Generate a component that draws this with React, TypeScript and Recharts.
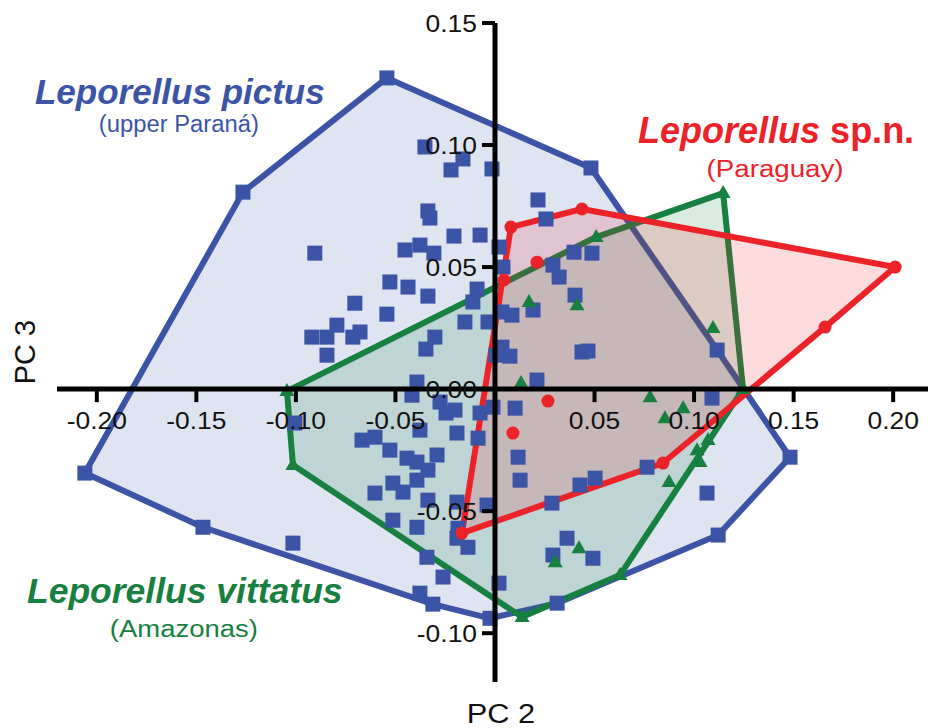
import { Curve, ReferenceDot, ReferenceLine, Scatter, ScatterChart, XAxis, YAxis } from "recharts";

const FONT = '"Liberation Sans", Arial, Helvetica, sans-serif';
const BLUE = "#3b54a5";
const GREEN = "#178040";
const RED = "#ec2229";

const xTicks = [-0.2, -0.15, -0.1, -0.05, 0.05, 0.1, 0.15, 0.2];
const yTicks = [0.15, 0.1, 0.05, 0, -0.05, -0.1];

// L. pictus (upper Paraná) - hull vertices in drawing order
const pictusHull: [number, number][] = [
  [-0.0543, 0.1275], [-0.1266, 0.0807], [-0.206, -0.0344], [-0.1467, -0.0566], [-0.0312, -0.0881],
  [-0.0025, -0.0939], [0.0312, -0.0877], [0.1121, -0.0598], [0.1482, -0.0279], [0.1116, 0.016], [0.0482, 0.0906],
];

const pictusInner: [number, number][] = [
  [-0.0352, 0.0992], [-0.0161, 0.0943], [-0.0221, 0.0898], [-0.0015, 0.0902], [-0.0337, 0.073], [-0.0327, 0.0701],
  [-0.0905, 0.0557], [-0.0206, 0.0627], [-0.0075, 0.0631], [-0.0452, 0.057], [-0.0377, 0.059], [-0.0307, 0.0557],
  [0.002, 0.0582], [0.004, 0.05], [-0.0528, 0.0439], [-0.0437, 0.0418], [-0.0337, 0.0381], [-0.009, 0.041],
  [-0.0704, 0.0352], [-0.0543, 0.0307], [-0.0111, 0.0357], [-0.0151, 0.0275], [-0.0035, 0.0275], [-0.0794, 0.0262],
  [-0.092, 0.0213], [-0.0844, 0.0213], [-0.0678, 0.0234], [-0.0714, 0.0213], [-0.0844, 0.0139], [-0.0302, 0.0213],
  [-0.0347, 0.0164], [0.0216, 0.0775], [0.0256, 0.0697], [0.0397, 0.0561], [0.0487, 0.0557], [0.0291, 0.0508],
  [0.0322, 0.0459], [0.0402, 0.0385], [0.0191, 0.0324], [0.0035, 0.0316], [0.0085, 0.0303], [0.0035, 0.0172],
  [0.0075, 0.0135], [0.0005, 0.0139], [0.0437, 0.0152], [0.0467, 0.0156], [0.0211, 0.0037], [0.0101, -0.0078],
  [-0.001, -0.0074], [0.109, -0.0037], [-0.0392, 0.0029], [-0.0417, -0.0025], [-0.0276, -0.0053], [-0.0246, -0.0098],
  [-0.0201, -0.0086], [-0.0075, -0.0098], [-0.0377, -0.0168], [-0.0191, -0.018], [-0.0085, -0.0201], [-0.0668, -0.0209],
  [-0.0603, -0.0197], [-0.0528, -0.025], [-0.0442, -0.0283], [-0.0291, -0.027], [-0.0392, -0.0299], [-0.0337, -0.0332],
  [-0.0513, -0.0385], [-0.0392, -0.0373], [-0.0462, -0.0422], [-0.0603, -0.0426], [-0.0337, -0.0455], [-0.0191, -0.0463],
  [-0.004, -0.0475], [-0.0513, -0.0537], [-0.0392, -0.0566], [-0.0191, -0.0611], [-0.0136, -0.0648], [-0.1015, -0.0631],
  [-0.0342, -0.0689], [-0.0261, -0.077], [-0.0377, -0.0836], [0.0116, -0.0279], [0.0126, -0.0373], [0.0427, -0.0393],
  [0.0503, -0.0365], [0.0764, -0.032], [0.0286, -0.0467], [0.1065, -0.0426], [0.0362, -0.0611], [0.0291, -0.068],
  [0.0492, -0.0693], [0.002, -0.0795], [-0.1005, -0.0139], [-0.0186, -0.057],
];

// L. vittatus (Amazonas)
const vittatusHull: [number, number][] = [
  [-0.1045, -0.0008], [-0.1015, -0.0311], [0.0136, -0.0934], [0.0628, -0.0762], [0.1246, 0.0], [0.1146, 0.0803], [0.0508, 0.0623],
];

const vittatusInner: [number, number][] = [
  [0.0171, 0.0357], [0.0412, 0.0344], [0.1095, 0.025], [0.0131, 0.0025], [0.0779, -0.0033], [0.0945, -0.0078],
  [0.0854, -0.0119], [0.107, -0.0209], [0.1015, -0.025], [0.103, -0.0299], [0.0874, -0.0381], [0.0422, -0.0652], [0.0302, -0.0709],
];

// L. sp.n. (Paraguay)
const spnHull: [number, number][] = [
  [-0.0166, -0.059], [0.0844, -0.0303], [0.1658, 0.0254], [0.201, 0.05], [0.0437, 0.0738], [0.008, 0.0664],
];

const spnInner: [number, number][] = [
  [0.0045, 0.0447], [0.0211, 0.052], [0.0266, -0.0049], [0.009, -0.018],
];

const toPts = (arr: [number, number][]) => arr.map(([x, y]) => ({ x, y }));

const hullLine = (color: string) => (props: any) => (
  <Curve points={props.points} type="linearClosed" fill={color} fillOpacity={0.16} stroke={color} strokeWidth={6} strokeLinejoin="round" />
);

const noMark = () => <g />;

const square = (p: any) => <rect x={p.cx - 7.5} y={p.cy - 7.5} width={15} height={15} fill={BLUE} />;
const triangle = (p: any) => (
  <polygon points={`${p.cx},${p.cy - 8} ${p.cx - 7.5},${p.cy + 5} ${p.cx + 7.5},${p.cy + 5}`} fill={GREEN} />
);
const circle = (p: any) => <circle cx={p.cx} cy={p.cy} r={6.5} fill={RED} />;

const xTick = (label: string) => (p: any) => (
  <g>
    <line x1={p.cx} y1={p.cy} x2={p.cx} y2={p.cy + 13} stroke="#000" strokeWidth={4} />
    <text transform={`translate(${p.cx},${p.cy + 40}) scale(1.1,1)`} textAnchor="middle" fontSize={24} fontFamily={FONT} fill="#111">
      {label}
    </text>
  </g>
);

const yTick = (label: string) => (p: any) => (
  <g>
    <line x1={p.cx - 13} y1={p.cy} x2={p.cx} y2={p.cy} stroke="#000" strokeWidth={4} />
    <text transform={`translate(${p.cx - 18},${p.cy + 8.5}) scale(1.1,1)`} textAnchor="end" fontSize={24} fontFamily={FONT} fill="#111">
      {label}
    </text>
  </g>
);

const title = (text: string, color: string, size: number) => (p: any) => (
  <text x={p.cx} y={p.cy} textAnchor="middle" fontSize={size} fontWeight="bold" fontStyle="italic" fontFamily={FONT} fill={color}>
    {text}
  </text>
);

const subtitle = (text: string, color: string, width: number) => (p: any) => (
  <text x={p.cx} y={p.cy} textAnchor="middle" fontSize={23} fontFamily={FONT} fill={color} textLength={width} lengthAdjust="spacingAndGlyphs">
    {text}
  </text>
);

const spnTitle = (p: any) => (
  <text x={p.cx} y={p.cy} textAnchor="middle" fontSize={36} fontWeight="bold" fontFamily={FONT} fill={RED}>
    <tspan fontStyle="italic">Leporellus</tspan> sp.n.
  </text>
);

const pcX = (p: any) => (
  <text transform={`translate(${p.cx},${p.cy}) scale(1.1,1)`} textAnchor="middle" fontSize={28} fontFamily={FONT} fill="#111">
    PC 2
  </text>
);

const pcY = (p: any) => (
  <text transform={`translate(${p.cx},${p.cy}) rotate(-90)`} textAnchor="middle" fontSize={29} fontFamily={FONT} fill="#111">
    PC 3
  </text>
);

export default function App() {
  return (
    <div style={{ position: "absolute", left: 0, top: 0, width: 928, height: 728, background: "#fff" }}>
      <ScatterChart width={928} height={728} margin={{ top: 23, right: 0, bottom: 46, left: 57 }}>
        <XAxis type="number" dataKey="x" domain={[-0.22, 0.2175]} allowDataOverflow hide />
        <YAxis type="number" dataKey="y" domain={[-0.12, 0.15]} allowDataOverflow hide />

        <Scatter data={toPts(pictusHull)} line={hullLine(BLUE)} shape={noMark} isAnimationActive={false} />
        <Scatter data={toPts(vittatusHull)} line={hullLine(GREEN)} shape={noMark} isAnimationActive={false} />
        <Scatter data={toPts(spnHull)} line={hullLine(RED)} shape={noMark} isAnimationActive={false} />

        <Scatter data={toPts([...pictusHull, ...pictusInner])} shape={square} isAnimationActive={false} />
        <Scatter data={toPts([...vittatusHull, ...vittatusInner])} shape={triangle} isAnimationActive={false} />
        <Scatter data={toPts([...spnHull, ...spnInner])} shape={circle} isAnimationActive={false} />

        <ReferenceLine y={0} stroke="#000" strokeWidth={5} zIndex={650} />
        <ReferenceLine x={0} stroke="#000" strokeWidth={5} zIndex={650} />
        {xTicks.map((t) => (
          <ReferenceDot key={`x${t}`} x={t} y={0} shape={xTick(t.toFixed(2))} zIndex={650} />
        ))}
        {yTicks.map((t) => (
          <ReferenceDot key={`y${t}`} x={0} y={t} shape={yTick(t.toFixed(2))} zIndex={650} />
        ))}

        <ReferenceDot x={-0.1583} y={0.1168} shape={title("Leporellus pictus", BLUE, 35)} zIndex={700} />
        <ReferenceDot x={-0.1588} y={0.1053} shape={subtitle("(upper Paraná)", BLUE, 160)} zIndex={700} />
        <ReferenceDot x={0.1412} y={0.1008} shape={spnTitle} zIndex={700} />
        <ReferenceDot x={0.1407} y={0.0869} shape={subtitle("(Paraguay)", RED, 137)} zIndex={700} />
        <ReferenceDot x={-0.1558} y={-0.0877} shape={title("Leporellus vittatus", GREEN, 35.5)} zIndex={700} />
        <ReferenceDot x={-0.1563} y={-0.1016} shape={subtitle("(Amazonas)", GREEN, 148)} zIndex={700} />
        <ReferenceDot x={0.003} y={-0.1369} shape={pcX} ifOverflow="visible" zIndex={700} />
        <ReferenceDot x={-0.2312} y={0.0152} shape={pcY} ifOverflow="visible" zIndex={700} />
      </ScatterChart>
    </div>
  );
}
